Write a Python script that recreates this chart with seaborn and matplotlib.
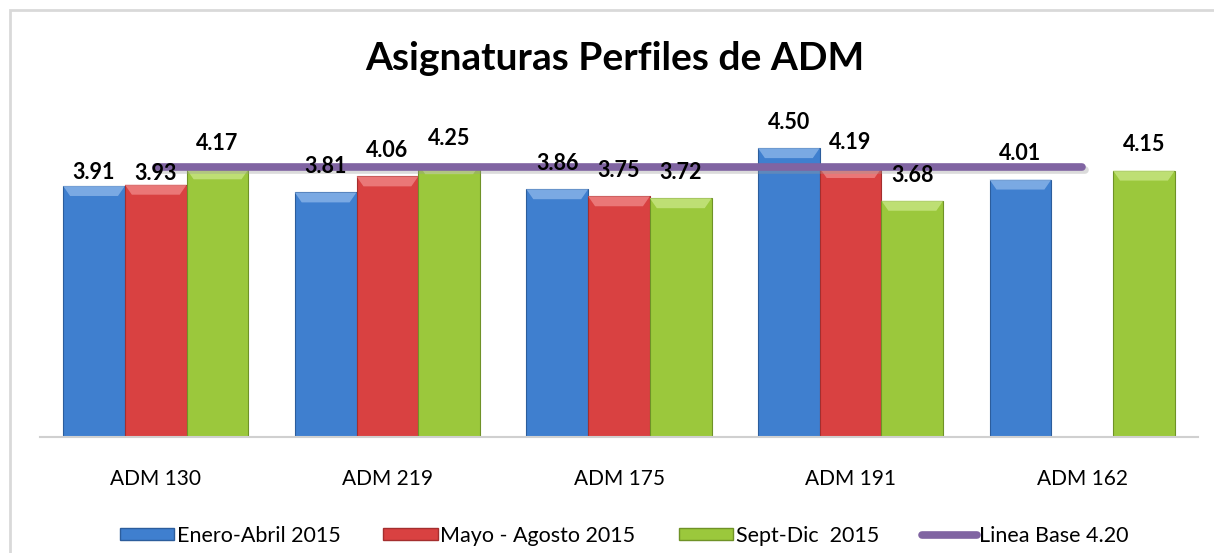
import numpy as np
import pandas as pd
import matplotlib.pyplot as plt
import seaborn as sns
from matplotlib.patches import Rectangle, Polygon, Patch
from matplotlib.lines import Line2D

# data
asignaturas = ['ADM 130', 'ADM 219', 'ADM 175', 'ADM 191', 'ADM 162']
periodos = ['Enero-Abril 2015', 'Mayo - Agosto 2015', 'Sept-Dic  2015']
enero_abril = [3.91, 3.81, 3.86, 4.50, 4.01]
mayo_agosto = [3.93, 4.06, 3.75, 4.19, np.nan]
sept_dic = [4.17, 4.25, 3.72, 3.68, 4.15]
linea_base = [4.20, 4.20, 4.20, 4.20, 4.20]

df = pd.DataFrame({
    'Asignatura': asignaturas * 3,
    'Periodo': [periodos[0]] * 5 + [periodos[1]] * 5 + [periodos[2]] * 5,
    'Valor': enero_abril + mayo_agosto + sept_dic,
})

sns.set_style('white')
plt.rcParams['font.family'] = ['Lato', 'DejaVu Sans']
plt.rcParams['text.color'] = 'black'
plt.rcParams['xtick.color'] = 'black'

colores = ['#3f7fcf', '#d94141', '#9bc83c']
bordes = ['#2c5d9c', '#a42e2e', '#6f9227']
claros = ['#8fb8ea', '#f08a8a', '#cbe888']

fig = plt.figure(figsize=(12.14, 5.53), dpi=100)
ax = fig.add_axes([40 / 1214, 1 - 437 / 553, 1158 / 1214, 321 / 553])

sns.barplot(data=df, x='Asignatura', y='Valor', hue='Periodo', order=asignaturas,
            hue_order=periodos, palette=colores, width=0.8, gap=0, ax=ax,
            errorbar=None, legend=False, saturation=1)

# bevel look on each bar + data labels
px_y = 321 / 5.0
bar_offsets = {(0, 0): 10, (1, 0): 8}   # first two labels sit lower (points)
for hi, cont in enumerate(ax.containers):
    for ci, bar in enumerate(cont):
        h = bar.get_height()
        if np.isnan(h) or h == 0:
            continue
        bar.set_edgecolor(bordes[hi])
        bar.set_linewidth(0.8)
        x0, w = bar.get_x(), bar.get_width()
        bev = 10 / px_y
        ins = 0.03
        ax.add_patch(Polygon([[x0, h], [x0 + w, h], [x0 + w - ins, h - bev], [x0 + ins, h - bev]],
                             closed=True, facecolor=claros[hi], edgecolor='none', alpha=0.75, zorder=3))
        off = bar_offsets.get((hi, ci), 18.5)
        ax.annotate(f'{h:.2f}', (x0 + w / 2, h), xytext=(0, off), textcoords='offset points',
                    ha='center', va='center', fontsize=15.5, fontweight='bold', color='black',
                    zorder=6)

# baseline line with a soft shadow
xs = np.arange(len(asignaturas))
ax.plot(xs + 0.012, np.array(linea_base) - 0.04, color='#999999', lw=5.5, alpha=0.35,
        solid_capstyle='round', zorder=4)
sns.lineplot(x=xs, y=linea_base, color='#8064a2', lw=5.5, ax=ax, zorder=5)
ax.lines[-1].set_solid_capstyle('round')

ax.set_ylim(0, 5)
ax.set_xlim(-0.5, 4.5)
ax.set_xlabel('')
ax.set_ylabel('')
ax.set_yticks([])
ax.tick_params(axis='x', length=0, labelsize=15, pad=23)
for s in ['left', 'right', 'top']:
    ax.spines[s].set_visible(False)
ax.spines['bottom'].set_color('#d0d0d0')
ax.spines['bottom'].set_linewidth(1.5)

fig.text(615 / 1214, 1 - 58 / 553, 'Asignaturas Perfiles de ADM', ha='center', va='center',
         fontsize=28, fontweight='bold', color='black')

# legend
handles = [Patch(facecolor=colores[i], edgecolor=bordes[i], label=periodos[i]) for i in range(3)]
handles.append(Line2D([0], [0], color='#8064a2', lw=5.5, solid_capstyle='round', label='Linea Base 4.20'))
fig.legend(handles=handles, loc='center', bbox_to_anchor=(624 / 1214, 1 - 536 / 553), ncol=4,
           frameon=False, fontsize=15.5, handlelength=2.55, handleheight=0.5, handletextpad=0.1,
           columnspacing=2.0)

# outer chart border
fig.add_artist(Rectangle((10 / 1214, -0.05), 1.2, 1 - 10 / 553 + 0.05, transform=fig.transFigure,
                         fill=False, edgecolor='#d9d9d9', lw=2))

fig.savefig('out.png', dpi=100)
